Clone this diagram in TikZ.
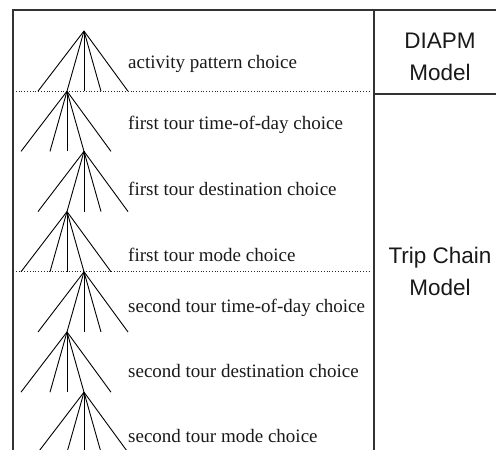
\documentclass[tikz,border=0pt]{standalone}
\usepackage{fontspec}
\setmainfont{Liberation Serif}
\setsansfont{Liberation Sans}
\usetikzlibrary{calc}

\begin{document}
\begin{tikzpicture}[
  x=1pt, y=-1pt,
  frame/.style={line width=1.3pt, draw=black!80},
  tier/.style={dotted, line width=0.8pt, draw=black!85},
  leg/.style={line width=0.9pt},
  choice/.style={anchor=base west, inner sep=0pt, text=black!90,
    font=\fontsize{19}{22}\selectfont},
  model/.style={align=center, inner sep=0pt, text=black!90,
    font=\sffamily\fontsize{22.5}{32.5}\selectfont}
]
  \useasboundingbox (0,0) rectangle (496,450);
  \clip (0,0) rectangle (496,450);

  % Frame corners
  \coordinate (nw) at (13,10);
  \coordinate (ne) at (496,10);
  \coordinate (sw) at (13,450);
  \coordinate (divtop) at (374,10);
  \coordinate (divbot) at (374,450);
  \coordinate (diapmse) at (496,94);
  \coordinate (dotend) at (371,0);

  % Nest apexes
  \foreach \i in {1,...,7} {
    \pgfmathsetmacro\ax{isodd(\i) ? 84 : 67}
    \pgfmathsetmacro\ay{31 + 60.2*(\i-1)}
    \coordinate (apex\i) at (\ax,\ay);
  }

  % Frame
  \draw[frame] (ne) -- (nw) -- (sw);
  \draw[frame] (divtop) -- (divbot);
  \draw[frame] (divtop |- diapmse) -- (diapmse);

  % Model boundaries
  \draw[tier] (nw |- apex2) -- (dotend |- apex2);
  \draw[tier] (nw |- apex5) -- (dotend |- apex5);

  % Nested trees
  \foreach \i in {1,...,7}
    \foreach \dx in {-46,-17,0,17,44}
      \draw[leg] (apex\i) -- ++(\dx,60.2);

  % Choice levels
  \node[choice] (act) at (128,68) {activity pattern choice};
  \node[choice] (ftod) at (128,129) {first tour time-of-day choice};
  \node[choice] (fdest) at (128,195) {first tour destination choice};
  \node[choice] (fmode) at (128,261) {first tour mode choice};
  \node[choice] (stod) at (128,312) {second tour time-of-day choice};
  \node[choice] (sdest) at (128,377) {second tour destination choice};
  \node[choice] (smode) at (128,442) {second tour mode choice};

  % Model labels
  \node[model] (diapm) at (440,57) {DIAPM\\Model};
  \node[model] (chain) at (440,271.5) {Trip Chain\\Model};
\end{tikzpicture}
\end{document}
